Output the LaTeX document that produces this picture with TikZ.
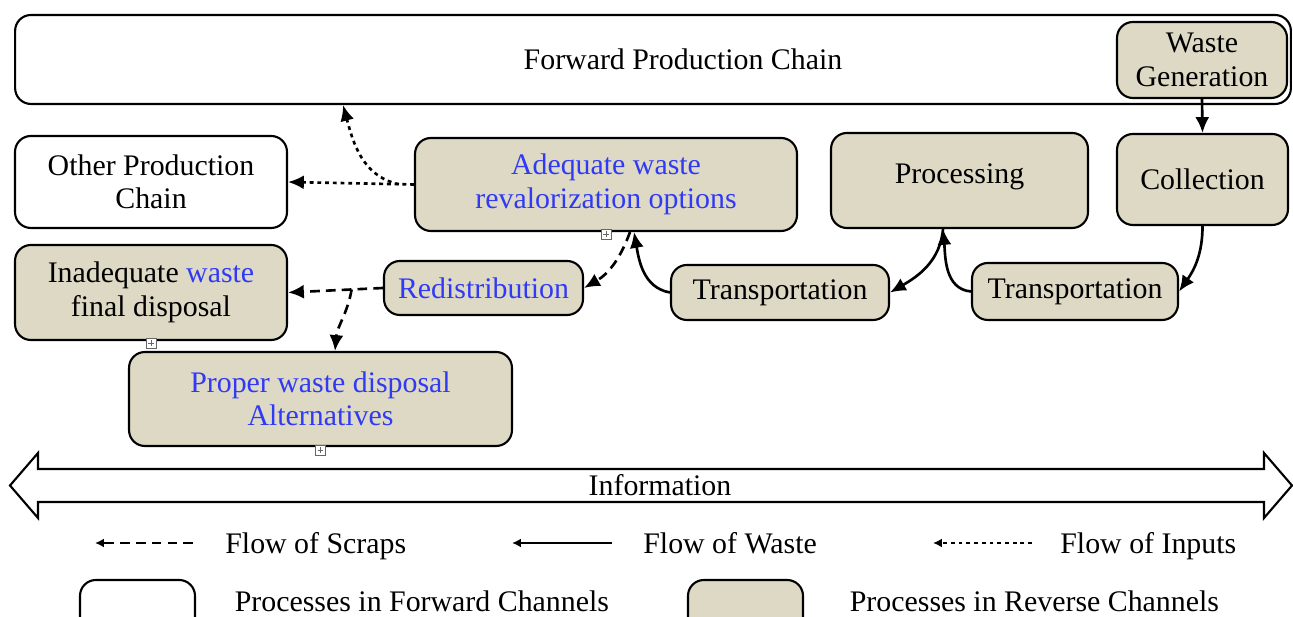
\documentclass[tikz,border=0pt]{standalone}
\usepackage{fontspec}
\setmainfont{Liberation Serif}
\usepackage{tikz}
\usetikzlibrary{positioning,calc,arrows.meta}

\definecolor{revfill}{RGB}{221,217,196}
\definecolor{optblue}{RGB}{48,58,245}

\begin{document}
\begin{tikzpicture}[
    x=0.02cm, y=0.02cm,
    every node/.style={font=\fontsize{17}{19}\selectfont},
    fwdproc/.style={rectangle, draw=black, fill=white, line width=1.2pt, rounded corners=9pt, align=center},
    revproc/.style={rectangle, draw=black, fill=revfill, line width=1.2pt, rounded corners=9pt, align=center},
    expander/.style={rectangle, draw=black!60, fill=white, line width=0.4pt, minimum size=0.2cm, inner sep=0pt,
        path picture={\draw[line width=0.4pt] ([yshift=1.2pt]path picture bounding box.south) -- ([yshift=-1.2pt]path picture bounding box.north)
            ([xshift=1.2pt]path picture bounding box.west) -- ([xshift=-1.2pt]path picture bounding box.east);}},
    wasteflow/.style={-{Latex[length=9pt,width=8pt]}, line width=1.5pt},
    scrapflow/.style={wasteflow, dash pattern=on 5.5pt off 3.5pt},
    inputflow/.style={wasteflow, dash pattern=on 2.2pt off 2.2pt},
    legtip/.style={-{Latex[length=5pt,width=5pt]}},
    legtext/.style={inner sep=2pt, text height=0.7em, text depth=0.22em}
]
    \clip (0,0) rectangle (1293,617);
    \useasboundingbox (0,0) rectangle (1293,617);

    % Forward chain
    \node[fwdproc, minimum width=25.52cm, minimum height=1.78cm,
          label={[xshift=0.6cm]center:Forward Production Chain}] (fwd) at (653,557.5) {};
    \node[revproc, minimum width=3.4cm, minimum height=1.52cm] (wastegen) at (1202,557) {Waste\\Generation};

    % Upper row
    \node[fwdproc, minimum width=5.44cm, minimum height=1.84cm] (other) at (151,435) {Other Production\\Chain};
    \node[revproc, minimum width=7.64cm, minimum height=1.86cm, text=optblue] (adequate) at (606,432.5) {Adequate waste\\revalorization options};
    \node[revproc, minimum width=5.14cm, minimum height=1.9cm,
          label={[yshift=0.08cm]center:Processing}] (processing) at (959.5,436.5) {};
    \node[revproc, minimum width=3.42cm, minimum height=1.82cm] (collection) at (1202.5,437.5) {Collection};

    % Lower row
    \node[revproc, minimum width=5.44cm, minimum height=1.9cm] (inadequate) at (151,324.5) {Inadequate \textcolor{optblue}{waste}\\final disposal};
    \node[revproc, minimum width=3.98cm, minimum height=1.08cm, text=optblue] (redist) at (483.5,329) {Redistribution};
    \node[revproc, minimum width=4.36cm, minimum height=1.1cm] (transp1) at (780,324.5) {Transportation};
    \node[revproc, minimum width=4.12cm, minimum height=1.14cm] (transp2) at (1075,325.5) {Transportation};
    \node[revproc, minimum width=7.66cm, minimum height=1.88cm, text=optblue] (proper) at (320.5,218) {Proper waste disposal\\Alternatives};

    % Expand markers
    \node[expander] at ([yshift=-0.04cm]adequate.south) {};
    \node[expander] at ([yshift=-0.04cm]inadequate.south) {};
    \node[expander] at ([yshift=-0.06cm]proper.south) {};

    % Flow of waste
    \draw[wasteflow] (wastegen.south) -- (collection.north);
    \draw[wasteflow] (collection.south) to[out=-90, in=55] (transp2.east);
    \draw[wasteflow] (transp2.west) to[out=175, in=-85] ([xshift=-0.33cm]processing.south);
    \draw[wasteflow] ([xshift=-0.33cm]processing.south) to[out=-95, in=30] (transp1.east);
    \draw[wasteflow] (transp1.west) to[out=170, in=-80] ([xshift=0.56cm]adequate.south);

    % Flow of scraps
    \draw[scrapflow] ([xshift=0.48cm]adequate.south) to[out=-110, in=30] (redist.east);
    \draw[scrapflow] (redist.west) -- (inadequate.east);
    \coordinate (scrapsplit) at ($(redist.west)!0.33!(inadequate.east)$);
    \draw[scrapflow] (scrapsplit) to[out=-100, in=85] ([xshift=0.29cm]proper.north);

    % Flow of inputs
    \draw[inputflow] (adequate.west) -- (other.east);
    \coordinate (inputsplit) at ($(adequate.west)!0.12!(other.east)$);
    \draw[inputflow] (inputsplit) to[out=168, in=-75] ([xshift=-6.2cm]fwd.south);

    % Information
    \draw[line width=1.2pt, fill=white] (10,131.5) -- (38,164) -- (38,148) -- (1264,148) -- (1264,164) -- (1292,131.5)
        -- (1264,99) -- (1264,115) -- (38,115) -- (38,99) -- cycle;
    \node (info) at (660,132) {Information};

    % Legend
    \coordinate (scrapA) at (193,74);
    \coordinate (scrapB) at (95,74);
    \draw[scrapflow, legtip] (scrapA) -- (scrapB);
    \node[legtext, right=0.57cm of scrapA, yshift=-0.12cm] {Flow of Scraps};
    \coordinate (wasteA) at (612,74);
    \coordinate (wasteB) at (512,74);
    \draw[wasteflow, legtip] (wasteA) -- (wasteB);
    \node[legtext, right=0.55cm of wasteA, yshift=-0.12cm] {Flow of Waste};
    \coordinate (inputA) at (1032,74);
    \coordinate (inputB) at (933,74);
    \draw[inputflow, legtip] (inputA) -- (inputB);
    \node[legtext, right=0.49cm of inputA, yshift=-0.12cm] {Flow of Inputs};

    \node[fwdproc, minimum width=2.3cm, minimum height=1.3cm] (legfwd) at (137.5,4.5) {};
    \node[legtext, anchor=west] at (231,10) {Processes in Forward Channels};
    \node[revproc, minimum width=2.3cm, minimum height=1.3cm] (legrev) at (745.5,4.5) {};
    \node[legtext, anchor=west] at (846,10) {Processes in Reverse Channels};
\end{tikzpicture}
\end{document}
